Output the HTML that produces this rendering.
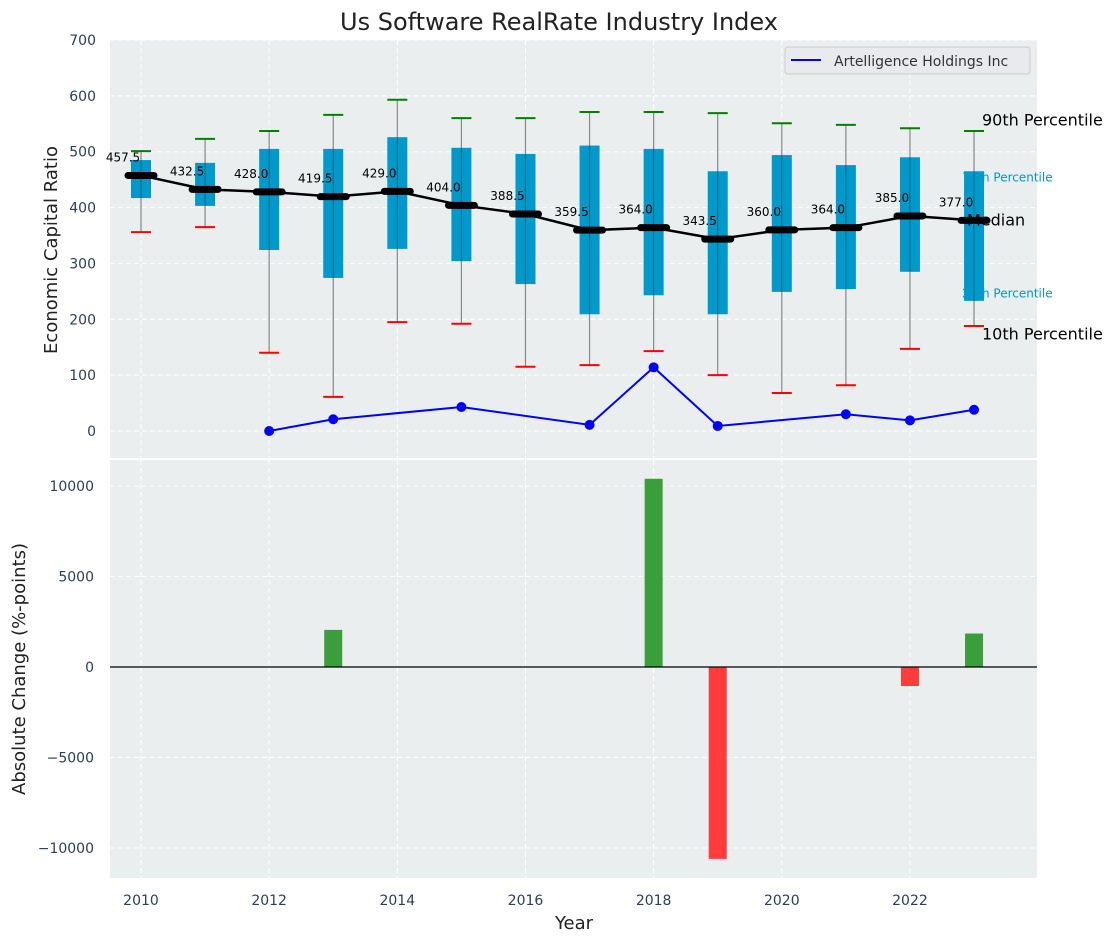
<!DOCTYPE html>
<html><head><meta charset="utf-8"><style>
body{margin:0;background:#fff;font-family:"Liberation Sans","DejaVu Sans",sans-serif}
svg text{font-family:"DejaVu Sans","Liberation Sans",sans-serif}
</style></head><body>
<svg id="c" width="1117" height="942" xmlns="http://www.w3.org/2000/svg">
<text x="559" y="30" text-anchor="middle" font-size="24" fill="#222">Us Software RealRate Industry Index</text>
<rect x="110" y="40" width="927" height="418" fill="#ebeeef"/>
<rect x="110" y="460" width="927" height="418" fill="#ebeeef"/>
<g id="grid"></g><g id="marks"></g><g id="axes"></g>
<text transform="translate(57,250) rotate(-90)" text-anchor="middle" font-size="18" fill="#222">Economic Capital Ratio</text>
<text transform="translate(25,669) rotate(-90)" text-anchor="middle" font-size="18" fill="#222">Absolute Change (%-points)</text>
<text x="574" y="929" text-anchor="middle" font-size="18" fill="#222">Year</text>
<g>
<rect x="785" y="47" width="245" height="27" rx="3" fill="#e8eaed" stroke="#ccc"/>
<line x1="791" y1="60" x2="821" y2="60" stroke="#0000ff" stroke-width="2"/>
<text x="834" y="66" font-size="14" fill="#333">Artelligence Holdings Inc</text>
</g>
</svg>
<script>
const years=[2010,2011,2012,2013,2014,2015,2016,2017,2018,2019,2020,2021,2022,2023];
const p10=[356,365,140,61,195,192,115,118,143,100,68,82,147,188];
const p25=[417,403,324,274,326,304,263,209,243,209,249,254,285,233];
const median=[457.5,432.5,428.0,419.5,429.0,404.0,388.5,359.5,364.0,343.5,360.0,364.0,385.0,377.0];
const p75=[485,480,505,505,526,507,496,511,505,465,494,476,490,465];
const p90=[501,523,537,566,593,560,560,571,571,569,551,548,542,537];
const compYears=[2012,2013,2015,2017,2018,2019,2021,2022,2023];
const compVals=[0,21,43,11,114,9,30,19,38];
const changeYears=[2013,2018,2019,2022,2023];
const changeVals=[2050,10400,-10600,-1050,1850];
const yTicksTop=[0,100,200,300,400,500,600,700];
const yTicksBot=[-10000,-5000,0,5000,10000];
const xTicks=[2010,2012,2014,2016,2018,2020,2022];

const NS="http://www.w3.org/2000/svg";
const X=v=>141+(v-2010)*64.08;
const Y=v=>431-v*0.5586;
const Y2=v=>667-v*0.0181;
function mk(p,tag,a,txt){const e=document.createElementNS(NS,tag);for(const k in a)e.setAttribute(k,a[k]);if(txt!==undefined)e.textContent=txt;document.getElementById(p).appendChild(e);return e;}

yTicksTop.forEach(v=>{
 const l=mk('grid','line',{x1:110,x2:1037,y1:Y(v),y2:Y(v),stroke:'#fff','stroke-dasharray':'5,3','stroke-width':1});
 
 
 const t=mk('axes','text',{x:96,y:Y(v)+5,'text-anchor':'end','font-size':14,fill:'#2e3e55'},v);
 
 
});
yTicksBot.forEach(v=>{
 const l=mk('grid','line',{x1:110,x2:1037,y1:Y2(v),y2:Y2(v),stroke:'#fff','stroke-dasharray':'5,3','stroke-width':1});
 
 
 const t=mk('axes','text',{x:94,y:Y2(v)+5,'text-anchor':'end','font-size':14,fill:'#2e3e55'},v<0?'\u2212'+Math.abs(v):v);
 
 
});
xTicks.forEach(v=>{
 [[40,458],[460,878]].forEach(r=>{
  const l=mk('grid','line',{x1:X(v),x2:X(v),y1:r[0],y2:r[1],stroke:'#fff','stroke-dasharray':'5,3','stroke-width':1});
  
  
 });
 const t=mk('axes','text',{x:X(v),y:905,'text-anchor':'middle','font-size':14,fill:'#2e3e55'},v);
 
 
});

const pl=[['90th Percentile',982,121,16,'#000'],['75th Percentile',962,178,12,'#0099cc'],['25th Percentile',962,294,12,'#0099cc'],['10th Percentile',982,335,16,'#000']];
pl.forEach(a=>{
 const t=mk('marks','text',{x:a[1],y:a[2],'font-size':a[3],fill:a[4],'dominant-baseline':'middle'},a[0]);
 
 
});

years.forEach((yr,i)=>{
 const x=X(yr);
 const w=mk('marks','line',{x1:x,x2:x,y1:Y(p90[i]),y2:Y(p10[i]),stroke:'#888','stroke-width':1.2});
 
 
 const b=mk('marks','rect',{x:x-10,y:Y(p75[i]),width:20,height:Y(p25[i])-Y(p75[i]),fill:'#0099cc'});
 
 
 const w2=mk('marks','line',{x1:x,x2:x,y1:Y(p75[i]),y2:Y(p25[i]),stroke:'#333','stroke-width':1,opacity:0.5});
 
 
 const g=mk('marks','line',{x1:x-10,x2:x+10,y1:Y(p90[i]),y2:Y(p90[i]),stroke:'green','stroke-width':2});
 
 
 const r=mk('marks','line',{x1:x-10,x2:x+10,y1:Y(p10[i]),y2:Y(p10[i]),stroke:'red','stroke-width':2});
 
 
});
const ml=mk('marks','text',{x:967,y:221,'font-size':16,fill:'#000','dominant-baseline':'middle'},'Median');


const mp=mk('marks','polyline',{points:years.map((y,i)=>X(y)+','+Y(median[i])).join(' '),fill:'none',stroke:'#000','stroke-width':2.5});


years.forEach((yr,i)=>{
 const x=X(yr),y=Y(median[i]);
 const m=mk('marks','line',{x1:x-13,x2:x+13,y1:y,y2:y,stroke:'#000','stroke-width':7,'stroke-linecap':'round'});
 
 
 const t=mk('marks','text',{x:x-18,y:y-14,'text-anchor':'middle','font-size':12,fill:'#000'},median[i].toFixed(1));
 
 
});
const cl=mk('marks','polyline',{points:compYears.map((y,i)=>X(y)+','+Y(compVals[i])).join(' '),fill:'none',stroke:'#0000ff','stroke-width':2});


compYears.forEach((yr,i)=>{
 const c=mk('marks','circle',{cx:X(yr),cy:Y(compVals[i]),r:5,fill:'#0000ff'});
 
 
});

changeYears.forEach((yr,i)=>{
 const v=changeVals[i];
 const b=mk('marks','rect',{x:X(yr)-9,y:Math.min(Y2(v),Y2(0)),width:18,height:Math.abs(Y2(v)-Y2(0)),fill:v>=0?'#3a9e3a':'#ff3b3b'});
 
 
});
const zl=mk('marks','line',{x1:110,x2:1037,y1:Y2(0),y2:Y2(0),stroke:'#000','stroke-width':1.2});


</script>
</body></html>
